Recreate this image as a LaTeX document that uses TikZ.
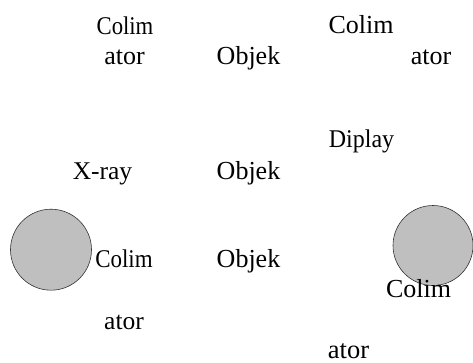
\documentclass[tikz,border=0pt]{standalone}
\usepackage{graphicx}
\usepackage{fontspec}
\setmainfont{Liberation Serif}
\newcommand{\fs}[1]{\fontsize{#1}{#1}\selectfont}
\newcommand{\narrow}[2]{\scalebox{#1}[1]{#2}}
\begin{document}
\begin{tikzpicture}[x=1pt,y=-1pt,
  lbl/.style={anchor=base,inner sep=0pt,font=\fs{26}},
  disc/.style={draw=black!80,line width=0.6pt,fill=black!25}]
\useasboundingbox (0,0) rectangle (473,363);
% grey discs
\node[disc,circle,minimum size=81pt,inner sep=0pt] (dl) at (51,249.7) {};
\node[disc,circle,minimum size=80pt,inner sep=0pt] (dr) at (433,245.5) {};
% labels
\node[lbl,font=\fs{25.5}] (c1) at (125,35) {\narrow{0.89}{Colim}};
\node[lbl] (a1) at (124.5,65) {ator};
\node[lbl] (o1) at (248.5,65) {Objek};
\node[lbl] (c2) at (361,34) {Colim};
\node[lbl] (a2) at (431,65) {ator};
\node[lbl,font=\fs{25.5}] (dp) at (361.5,148) {\narrow{0.94}{Diplay}};
\node[lbl,font=\fs{25.5}] (xr) at (102.5,180) {X-ray};
\node[lbl] (o2) at (248.5,180) {Objek};
\node[lbl,font=\fs{25.5}] (c3) at (124,267) {\narrow{0.9}{Colim}};
\node[lbl] (o3) at (248.5,267) {Objek};
\node[lbl,font=\fs{25.5}] (a3) at (124,329) {ator};
\node[lbl] (c4) at (418.5,297) {Colim};
\node[lbl,font=\fs{26.5}] (a4) at (348.5,358) {ator};
\end{tikzpicture}
\end{document}
